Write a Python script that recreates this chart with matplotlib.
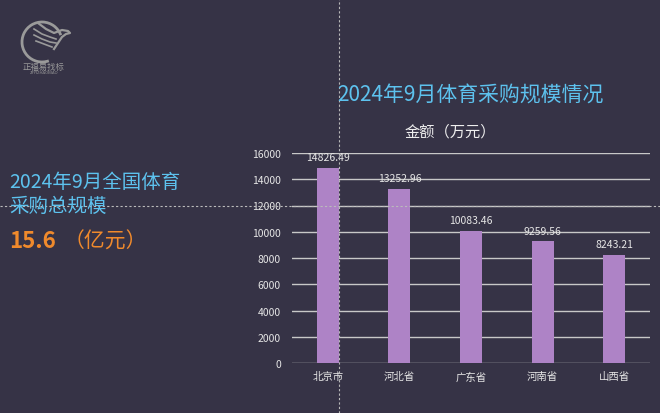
import matplotlib
matplotlib.use("Agg")
import matplotlib.pyplot as plt
from matplotlib.patches import Circle, Arc

plt.rcParams['font.family'] = ['Noto Sans CJK SC', 'DejaVu Sans']

categories = ["北京市", "河北省", "广东省", "河南省", "山西省"]
values = [14826.49, 13252.96, 10083.46, 9259.56, 8243.21]
yticks = [0, 2000, 4000, 6000, 8000, 10000, 12000, 14000, 16000]

bg = "#363346"
fig = plt.figure(figsize=(6.6, 4.14), dpi=100, facecolor=bg)
W, H = 660, 414

ax = fig.add_axes([292 / W, 1 - 364 / H, 358 / W, 210 / H])
ax.set_facecolor(bg)
x = list(range(len(categories)))
ax.bar(x, values, width=0.31, color="#AE83C6", zorder=3)
for xi, v in zip(x, values):
    ax.text(xi, v + 450, f"{v:.2f}", ha="center", va="bottom", color="#E6E6E6", fontsize=7.5, zorder=4)
ax.set_xlim(-0.5, len(categories) - 0.5)
ax.set_ylim(0, 16000)
ax.set_yticks(yticks)
ax.set_yticklabels([str(t) for t in yticks])
ax.set_xticks(x)
ax.set_xticklabels(categories)
ax.tick_params(axis="both", colors="#E6E6E6", labelsize=7.5, length=0)
ax.tick_params(axis="y", pad=8)
ax.tick_params(axis="x", pad=6)
ax.grid(axis="y", color="#C8C8C8", linewidth=1.0, zorder=1)
for s in ax.spines.values():
    s.set_visible(False)

# titles
fig.text(470 / W, 1 - 96 / H, "2024年9月体育采购规模情况", ha="center", va="center", color="#5DC2EE", fontsize=15)
fig.text(450 / W, 1 - 132 / H, "金额（万元）", ha="center", va="center", color="#EEEEEE", fontsize=11)

# left panel text
fig.text(9 / W, 1 - 183 / H, "2024年9月全国体育", ha="left", va="center", color="#5DC2EE", fontsize=14)
fig.text(9 / W, 1 - 206 / H, "采购总规模", ha="left", va="center", color="#5DC2EE", fontsize=14)
fig.text(9 / W, 1 - 242 / H, "15.6", ha="left", va="center", color="#F08A2C", fontsize=16, fontweight="bold")
fig.text(64 / W, 1 - 242 / H, "（亿元）", ha="left", va="center", color="#F08A2C", fontsize=15)

# guide dotted lines
fig.add_artist(plt.Line2D([339 / W, 339 / W], [0, 1], transform=fig.transFigure, color="#BBBBBB", linestyle=(0, (2, 2)), linewidth=0.8))
fig.add_artist(plt.Line2D([0, 1], [1 - 207 / H, 1 - 207 / H], transform=fig.transFigure, color="#BBBBBB", linestyle=(0, (2, 2)), linewidth=0.8))

# logo
lax = fig.add_axes([0, 1 - 80 / H, 120 / W, 80 / H])
lax.set_xlim(0, 120)
lax.set_ylim(80, 0)
lax.axis("off")
lax.add_patch(Arc((42, 43), 40, 40, theta1=70, theta2=340, color="#9A9A9A", linewidth=2.0))
lax.plot([38, 46, 54, 62, 68, 70, 66, 62, 58, 54], [24, 30, 34, 31, 32, 34, 35, 38, 44, 50], color="#9A9A9A", linewidth=1.6)
lax.plot([34, 42, 50, 56], [30, 35, 38, 40], color="#9A9A9A", linewidth=1.2)
lax.plot([34, 42, 50, 56], [36, 40, 43, 44], color="#9A9A9A", linewidth=1.2)
lax.plot([36, 44, 52], [42, 45, 48], color="#9A9A9A", linewidth=1.2)
lax.text(44, 67, "正福易找标", ha="center", va="center", color="#9A9A9A", fontsize=6)
lax.text(44, 73, "ZFYIZHAOBIAO", ha="center", va="center", color="#9A9A9A", fontsize=3)

fig.savefig("out.png", dpi=100, facecolor=bg)
